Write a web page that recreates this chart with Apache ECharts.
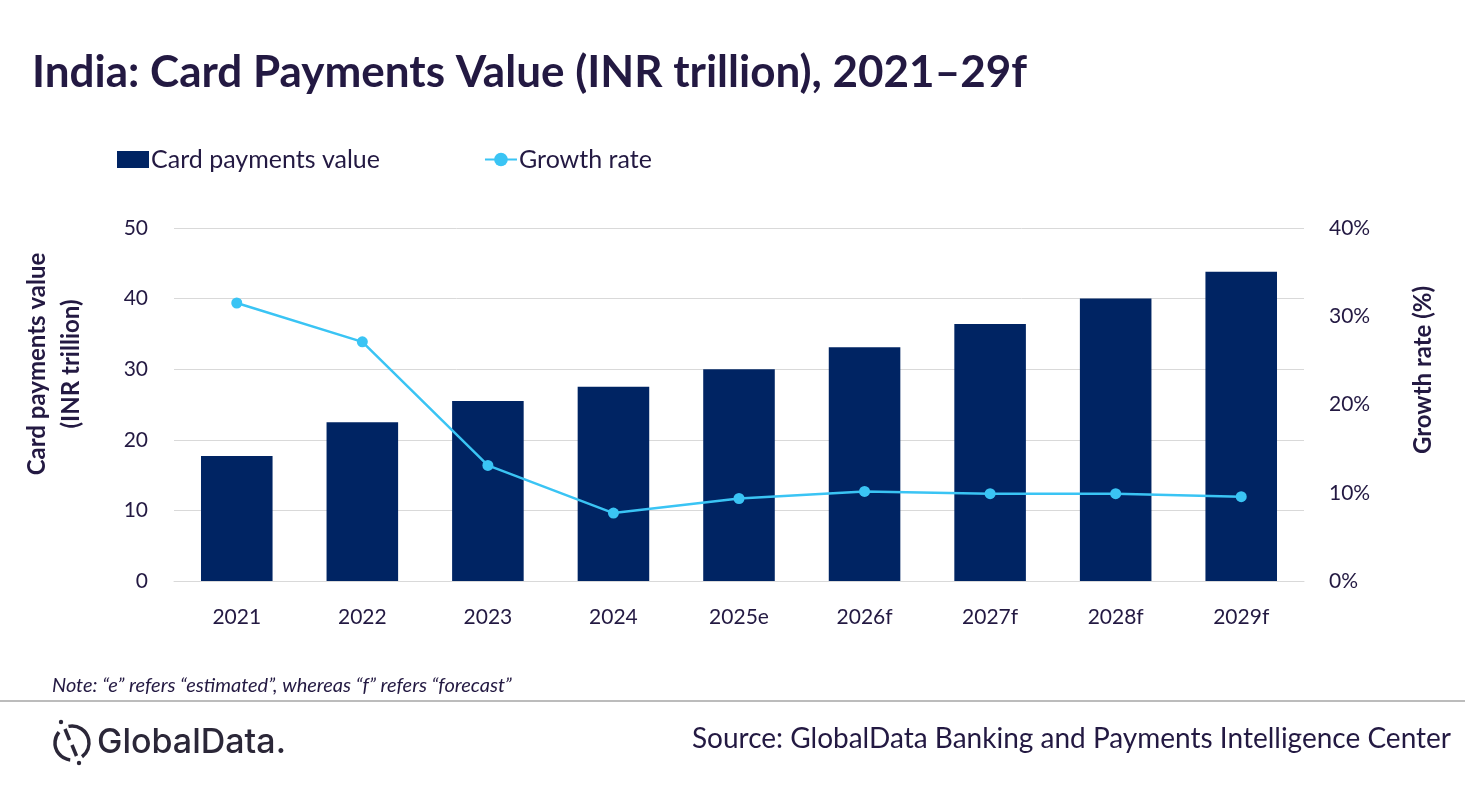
<!DOCTYPE html>
<html>
<head>
<meta charset="utf-8">
<title>India: Card Payments Value</title>
<script src="https://cdn.jsdelivr.net/npm/echarts@6/dist/echarts.min.js"></script>
<style>
  html, body { margin: 0; padding: 0; background: #fff; }
  #main { width: 1465px; height: 785px; }
</style>
</head>
<body>
<div id="main"></div>
<script>
// chart data
var years = ['2021', '2022', '2023', '2024', '2025e', '2026f', '2027f', '2028f', '2029f'];
var cardValue = [17.7, 22.5, 25.5, 27.5, 30.0, 33.1, 36.4, 40.0, 43.8];
var growthRate = [31.5, 27.1, 13.1, 7.7, 9.35, 10.15, 9.9, 9.9, 9.55];
var leftTicks = [0, 10, 20, 30, 40, 50];
var rightTicks = [0, 10, 20, 30, 40];

var ink = '#231942';
var logoInk = '#2b2738';
var font = 'Lato';
var deg = Math.PI / 180;

var myChart = echarts.init(document.getElementById('main'));
myChart.setOption({
    backgroundColor: '#fff',
    textStyle: { fontFamily: font, color: ink },
    title: {
        text: 'India: Card Payments Value (INR trillion), 2021\u201329f',
        left: 27,
        top: 46,
        textStyle: { fontFamily: font, fontSize: 44, fontWeight: 'bold', color: ink }
    },
    legend: {
        left: 112,
        top: 142,
        itemGap: 104,
        itemWidth: 32,
        itemHeight: 17,
        textStyle: { fontFamily: font, fontSize: 25, color: ink, padding: [0, 0, 0, -3] },
        data: [
            { name: 'Card payments value', icon: 'rect' },
            { name: 'Growth rate' }
        ]
    },
    grid: { left: 174, right: 161, top: 228, bottom: 204, outerBoundsMode: 'none' },
    xAxis: {
        type: 'category',
        data: years,
        axisTick: { show: false },
        axisLine: { lineStyle: { color: '#d9d9d9', width: 1 } },
        axisLabel: { fontFamily: font, fontSize: 21, color: ink, margin: 26 }
    },
    yAxis: [
        {
            type: 'value',
            min: leftTicks[0],
            max: leftTicks[leftTicks.length - 1],
            interval: 10,
            axisLine: { show: false },
            axisTick: { show: false },
            splitLine: { lineStyle: { color: '#d9d9d9', width: 1 } },
            axisLabel: { fontFamily: font, fontSize: 21, color: ink, margin: 26 }
        },
        {
            type: 'value',
            min: rightTicks[0],
            max: rightTicks[rightTicks.length - 1],
            interval: 10,
            axisLine: { show: false },
            axisTick: { show: false },
            splitLine: { show: false },
            axisLabel: { fontFamily: font, fontSize: 21, color: ink, margin: 25, formatter: '{value}%' }
        }
    ],
    series: [
        {
            name: 'Card payments value',
            type: 'bar',
            data: cardValue,
            barWidth: '57%',
            itemStyle: { color: '#002463' }
        },
        {
            name: 'Growth rate',
            type: 'line',
            yAxisIndex: 1,
            data: growthRate,
            symbol: 'circle',
            symbolSize: 11,
            lineStyle: { color: '#3ac4f4', width: 2.5 },
            itemStyle: { color: '#3ac4f4' }
        }
    ],
    graphic: [
        // axis titles
        {
            type: 'text', x: 54, y: 364, rotation: Math.PI / 2,
            style: { text: 'Card payments value\n(INR trillion)', fontFamily: font, fontSize: 24,
                fontWeight: 'bold', fill: ink, align: 'center', verticalAlign: 'middle', lineHeight: 34 }
        },
        {
            type: 'text', x: 1423, y: 370, rotation: Math.PI / 2,
            style: { text: 'Growth rate (%)', fontFamily: font, fontSize: 24,
                fontWeight: 'bold', fill: ink, align: 'center', verticalAlign: 'middle' }
        },
        {
            type: 'text', left: 52, top: 676,
            style: { text: 'Note: \u201ce\u201d refers \u201cestimated\u201d, whereas \u201cf\u201d refers \u201cforecast\u201d',
                fontFamily: font, fontSize: 20, fontStyle: 'italic', fill: ink }
        },
        {
            type: 'line', shape: { x1: 0, y1: 701, x2: 1465, y2: 701 },
            style: { stroke: '#a6a6a6', lineWidth: 1.5 }
        },
        // logo mark
        {
            type: 'arc', shape: { cx: 72, cy: 743, r: 17, startAngle: 96 * deg, endAngle: 220 * deg },
            style: { stroke: logoInk, lineWidth: 3.5, fill: null }
        },
        {
            type: 'arc', shape: { cx: 72, cy: 743, r: 17, startAngle: 258 * deg, endAngle: 414 * deg },
            style: { stroke: logoInk, lineWidth: 3.5, fill: null }
        },
        {
            type: 'line', shape: { x1: 65, y1: 729, x2: 69.5, y2: 740 },
            style: { stroke: logoInk, lineWidth: 3.5 }
        },
        {
            type: 'line', shape: { x1: 72, y1: 745, x2: 76.5, y2: 756 },
            style: { stroke: logoInk, lineWidth: 3.5 }
        },
        { type: 'circle', shape: { cx: 61, cy: 722, r: 2.2 }, style: { fill: logoInk } },
        { type: 'circle', shape: { cx: 79, cy: 763, r: 2.2 }, style: { fill: logoInk } },
        {
            type: 'text', left: 97, top: 726,
            style: { text: 'GlobalData.', fontFamily: 'Inter', fontSize: 34, fontWeight: 500, fill: logoInk }
        },
        {
            type: 'text', right: 14, top: 725,
            style: { text: 'Source: GlobalData Banking and Payments Intelligence Center',
                fontFamily: font, fontSize: 28, fill: ink }
        }
    ]
});
</script>
</body>
</html>
